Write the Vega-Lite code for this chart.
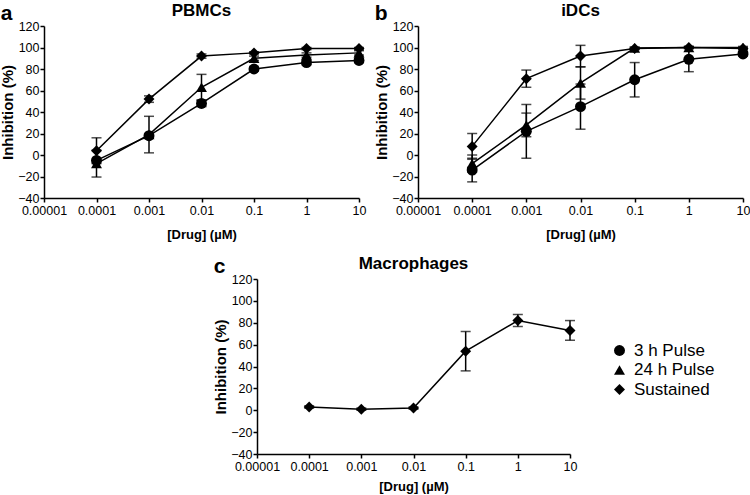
{
  "$schema": "https://vega.github.io/schema/vega-lite/v6.json",
  "padding": {"left": 0, "top": 2, "right": 0, "bottom": 0},
  "config": {
    "font": "Liberation Sans",
    "view": {"stroke": null},
    "axis": {"domainColor": "black", "domainWidth": 1.5, "tickColor": "black", "tickWidth": 1.5, "tickSize": 4, "labelColor": "black", "labelFontSize": 12.5, "titleColor": "black", "titleFontWeight": "bold", "grid": false, "labelPadding": 2},
    "axisY": {"titleFontSize": 15, "titlePadding": 2, "labelPadding": 1},
    "axisX": {"titleFontSize": 13, "titlePadding": 12},
    "title": {"color": "black"}
  },
  "data": {"values": [
    {"panel": "a", "series": "3 h Pulse", "dose": 0.0001, "value": -5, "err": 0},
    {"panel": "a", "series": "3 h Pulse", "dose": 0.001, "value": 18, "err": 0},
    {"panel": "a", "series": "3 h Pulse", "dose": 0.01, "value": 48, "err": 3},
    {"panel": "a", "series": "3 h Pulse", "dose": 0.1, "value": 80, "err": 2},
    {"panel": "a", "series": "3 h Pulse", "dose": 1, "value": 86, "err": 2},
    {"panel": "a", "series": "3 h Pulse", "dose": 10, "value": 88, "err": 2},
    {"panel": "a", "series": "24 h Pulse", "dose": 0.0001, "value": -8, "err": 12.5},
    {"panel": "a", "series": "24 h Pulse", "dose": 0.001, "value": 19, "err": 17},
    {"panel": "a", "series": "24 h Pulse", "dose": 0.01, "value": 63, "err": 12},
    {"panel": "a", "series": "24 h Pulse", "dose": 0.1, "value": 90, "err": 2},
    {"panel": "a", "series": "24 h Pulse", "dose": 1, "value": 93, "err": 2},
    {"panel": "a", "series": "24 h Pulse", "dose": 10, "value": 95, "err": 2},
    {"panel": "a", "series": "Sustained", "dose": 0.0001, "value": 4, "err": 12},
    {"panel": "a", "series": "Sustained", "dose": 0.001, "value": 52, "err": 3},
    {"panel": "a", "series": "Sustained", "dose": 0.01, "value": 92, "err": 2},
    {"panel": "a", "series": "Sustained", "dose": 0.1, "value": 95, "err": 1},
    {"panel": "a", "series": "Sustained", "dose": 1, "value": 99, "err": 1},
    {"panel": "a", "series": "Sustained", "dose": 10, "value": 99, "err": 1},
    {"panel": "b", "series": "3 h Pulse", "dose": 0.0001, "value": -14, "err": 11},
    {"panel": "b", "series": "3 h Pulse", "dose": 0.001, "value": 22, "err": 25},
    {"panel": "b", "series": "3 h Pulse", "dose": 0.01, "value": 45, "err": 21},
    {"panel": "b", "series": "3 h Pulse", "dose": 0.1, "value": 70, "err": 16},
    {"panel": "b", "series": "3 h Pulse", "dose": 1, "value": 89, "err": 11.5},
    {"panel": "b", "series": "3 h Pulse", "dose": 10, "value": 94, "err": 2},
    {"panel": "b", "series": "24 h Pulse", "dose": 0.0001, "value": -8, "err": 8},
    {"panel": "b", "series": "24 h Pulse", "dose": 0.001, "value": 28, "err": 11},
    {"panel": "b", "series": "24 h Pulse", "dose": 0.01, "value": 67, "err": 15},
    {"panel": "b", "series": "24 h Pulse", "dose": 0.1, "value": 99.5, "err": 1},
    {"panel": "b", "series": "24 h Pulse", "dose": 1, "value": 100, "err": 1},
    {"panel": "b", "series": "24 h Pulse", "dose": 10, "value": 100, "err": 1},
    {"panel": "b", "series": "Sustained", "dose": 0.0001, "value": 8, "err": 12},
    {"panel": "b", "series": "Sustained", "dose": 0.001, "value": 71, "err": 8},
    {"panel": "b", "series": "Sustained", "dose": 0.01, "value": 92, "err": 10},
    {"panel": "b", "series": "Sustained", "dose": 0.1, "value": 99, "err": 1},
    {"panel": "b", "series": "Sustained", "dose": 1, "value": 100, "err": 1},
    {"panel": "b", "series": "Sustained", "dose": 10, "value": 99, "err": 1},
    {"panel": "c", "series": "Sustained", "dose": 0.0001, "value": 3, "err": 1},
    {"panel": "c", "series": "Sustained", "dose": 0.001, "value": 1, "err": 1},
    {"panel": "c", "series": "Sustained", "dose": 0.01, "value": 2, "err": 1},
    {"panel": "c", "series": "Sustained", "dose": 0.1, "value": 54, "err": 18},
    {"panel": "c", "series": "Sustained", "dose": 1, "value": 82, "err": 5.5},
    {"panel": "c", "series": "Sustained", "dose": 10, "value": 73, "err": 9}
  ]},
  "resolve": {"scale": {"shape": "independent"}, "legend": {"shape": "independent"}},
  "spacing": 13,
  "vconcat": [
    {
      "spacing": 8,
      "resolve": {"scale": {"shape": "independent"}, "legend": {"shape": "independent"}},
      "hconcat": [
        {
          "title": {"text": "a", "anchor": "start", "frame": "bounds", "fontSize": 21, "fontWeight": "bold", "offset": -22},
          "resolve": {"scale": {"shape": "independent"}, "legend": {"shape": "independent"}},
          "vconcat": [{
            "title": {"text": "PBMCs", "fontSize": 17, "fontWeight": "bold", "anchor": "middle", "offset": 0},
            "width": 315, "height": 172,
            "transform": [{"filter": "datum.panel === 'a'"}],
            "encoding": {
              "x": {"field": "dose", "type": "quantitative", "scale": {"type": "log", "domain": [0.00001, 10], "nice": false}, "axis": {"title": "[Drug] (µM)", "values": [0.00001, 0.0001, 0.001, 0.01, 0.1, 1, 10], "format": "~f", "labelFlush": false, "labelOverlap": false}},
              "y": {"field": "value", "type": "quantitative", "scale": {"domain": [-40, 120], "nice": false, "zero": false}, "axis": {"title": "Inhibition (%)", "values": [-40, -20, 0, 20, 40, 60, 80, 100, 120]}}
            },
            "layer": [
              {"mark": {"type": "errorbar", "color": "black", "ticks": {"size": 10, "thickness": 1.5, "color": "black"}, "rule": {"strokeWidth": 1.5}}, "encoding": {"yError": {"field": "err"}}},
              {"mark": {"type": "line", "color": "black", "strokeWidth": 1.5}, "encoding": {"detail": {"field": "series"}}},
              {"mark": {"type": "point", "filled": true, "color": "black", "size": 120, "opacity": 1}, "encoding": {"shape": {"field": "series", "type": "nominal", "scale": {"domain": ["3 h Pulse", "24 h Pulse", "Sustained"], "range": ["circle", "triangle-up", "diamond"]}, "legend": null}}}
            ]
          }]
        },
        {
          "title": {"text": "b", "anchor": "start", "frame": "bounds", "fontSize": 21, "fontWeight": "bold", "offset": -22},
          "resolve": {"scale": {"shape": "independent"}, "legend": {"shape": "independent"}},
          "vconcat": [{
            "title": {"text": "iDCs", "fontSize": 17, "fontWeight": "bold", "anchor": "middle", "offset": 0},
            "width": 325, "height": 172,
            "transform": [{"filter": "datum.panel === 'b'"}],
            "encoding": {
              "x": {"field": "dose", "type": "quantitative", "scale": {"type": "log", "domain": [0.00001, 10], "nice": false}, "axis": {"title": "[Drug] (µM)", "values": [0.00001, 0.0001, 0.001, 0.01, 0.1, 1, 10], "format": "~f", "labelFlush": false, "labelOverlap": false}},
              "y": {"field": "value", "type": "quantitative", "scale": {"domain": [-40, 120], "nice": false, "zero": false}, "axis": {"title": "Inhibition (%)", "values": [-40, -20, 0, 20, 40, 60, 80, 100, 120]}}
            },
            "layer": [
              {"mark": {"type": "errorbar", "color": "black", "ticks": {"size": 10, "thickness": 1.5, "color": "black"}, "rule": {"strokeWidth": 1.5}}, "encoding": {"yError": {"field": "err"}}},
              {"mark": {"type": "line", "color": "black", "strokeWidth": 1.5}, "encoding": {"detail": {"field": "series"}}},
              {"mark": {"type": "point", "filled": true, "color": "black", "size": 120, "opacity": 1}, "encoding": {"shape": {"field": "series", "type": "nominal", "scale": {"domain": ["3 h Pulse", "24 h Pulse", "Sustained"], "range": ["circle", "triangle-up", "diamond"]}, "legend": null}}}
            ]
          }]
        }
      ]
    },
    {
      "spacing": 0,
      "resolve": {"scale": {"shape": "independent"}, "legend": {"shape": "independent"}},
      "hconcat": [
        {"width": 169, "height": 10, "data": {"values": []}, "mark": "point"},
        {
          "title": {"text": "c", "anchor": "start", "frame": "bounds", "fontSize": 21, "fontWeight": "bold", "offset": -22},
          "resolve": {"scale": {"shape": "independent"}, "legend": {"shape": "independent"}},
          "vconcat": [{
            "title": {"text": "Macrophages", "fontSize": 17, "fontWeight": "bold", "anchor": "middle", "offset": 0},
            "width": 313, "height": 175,
            "transform": [{"filter": "datum.panel === 'c'"}],
            "encoding": {
              "x": {"field": "dose", "type": "quantitative", "scale": {"type": "log", "domain": [0.00001, 10], "nice": false}, "axis": {"title": "[Drug] (µM)", "titlePadding": 8, "values": [0.00001, 0.0001, 0.001, 0.01, 0.1, 1, 10], "format": "~f", "labelFlush": false, "labelOverlap": false}},
              "y": {"field": "value", "type": "quantitative", "scale": {"domain": [-40, 120], "nice": false, "zero": false}, "axis": {"title": "Inhibition (%)", "values": [-40, -20, 0, 20, 40, 60, 80, 100, 120]}}
            },
            "layer": [
              {"mark": {"type": "errorbar", "color": "black", "ticks": {"size": 10, "thickness": 1.5, "color": "black"}, "rule": {"strokeWidth": 1.5}}, "encoding": {"yError": {"field": "err"}}},
              {"mark": {"type": "line", "color": "black", "strokeWidth": 1.5}, "encoding": {"detail": {"field": "series"}}},
              {"mark": {"type": "point", "filled": true, "color": "black", "size": 120, "opacity": 1}, "encoding": {"shape": {"field": "series", "type": "nominal", "scale": {"domain": ["3 h Pulse", "24 h Pulse", "Sustained"], "range": ["circle", "triangle-up", "diamond"]}, "legend": {"title": null, "orient": "none", "legendX": 354, "legendY": 63, "labelFontSize": 17, "labelColor": "black", "symbolSize": 120, "symbolFillColor": "black", "symbolStrokeWidth": 0, "symbolOpacity": 1, "rowPadding": 1.5, "labelOffset": 6, "padding": 0}}}}
            ]
          }]
        }
      ]
    }
  ]
}
